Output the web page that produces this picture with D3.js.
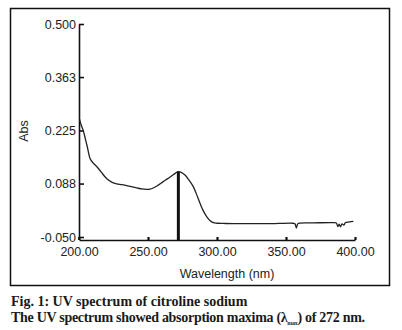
<!DOCTYPE html>
<html>
<head>
<meta charset="utf-8">
<script src="https://cdn.jsdelivr.net/npm/d3@7"></script>
<style>
  html, body { margin: 0; padding: 0; background: #fff; }
  svg { display: block; }
</style>
</head>
<body>
<svg id="chart" width="402" height="330"></svg>
<script>
// UV absorption spectrum of citroline sodium
const wavelength = [
  200.3, 201.5, 203, 204.5, 206, 208, 210, 212.8, 216, 220, 224, 227.3, 231, 234.6, 238,
  241.8, 245.5, 249, 251.5, 253.8, 257, 261, 264, 267, 270, 272, 274, 276.8, 279.5, 282.8,
  285, 287.7, 290, 292.5, 295, 297.3, 300, 305, 311.8, 320, 336, 345, 355, 356.5, 357.5,
  358.5, 360, 370, 384, 386.5, 387.5, 388.5, 389.5, 390.5, 392, 393, 396, 398.8
];
const absorbance = [
  0.255, 0.240, 0.226, 0.205, 0.183, 0.153, 0.142, 0.132, 0.118, 0.101, 0.091, 0.087, 0.085, 0.0825, 0.080,
  0.077, 0.074, 0.073, 0.0735, 0.0765, 0.083, 0.093, 0.100, 0.1075, 0.115, 0.119, 0.117, 0.110, 0.098, 0.080,
  0.062, 0.037, 0.018, 0.0025, -0.008, -0.013, -0.0145, -0.015, -0.0155, -0.0155, -0.0155, -0.015, -0.0145, -0.016, -0.027,
  -0.016, -0.014, -0.0135, -0.013, -0.014, -0.023, -0.017, -0.024, -0.016, -0.019, -0.013, -0.011, -0.0095
];
const xTicks = [200, 250, 300, 350, 400];
const yTicks = [0.500, 0.363, 0.225, 0.088, -0.050];
const lambdaMax = 272;
const peakAbs = 0.119;

const svg = d3.select("#chart");

// frame around the figure
svg.append("rect")
  .attr("x", 10.5).attr("y", 8.5)
  .attr("width", 379).attr("height", 277)
  .attr("fill", "none").attr("stroke", "#111").attr("stroke-width", 1.5);

const x = d3.scaleLinear().domain([200, 400]).range([79, 355]);
const y = d3.scaleLinear().domain([-0.05, 0.5]).range([237, 24]);
const axisY = 240;
const font = "'Liberation Sans', Arial, sans-serif";
// plain hyphen for negative values
const fmtY = d => d3.format(".3f")(d).replace("\u2212", "-");

// y axis
const gy = svg.append("g").attr("transform", `translate(${x(200)},0)`)
  .call(d3.axisLeft(y).tickValues(yTicks).tickFormat(fmtY)
    .tickSizeInner(-5).tickSizeOuter(0).tickPadding(3));
gy.select(".domain").attr("stroke", "#111").attr("stroke-width", 1.6);
gy.selectAll(".tick line").attr("stroke", "#111").attr("stroke-width", 1.6);
gy.selectAll("text").attr("font-family", font).attr("font-size", 12.5).attr("fill", "#222");

// joint between the y axis and the baseline
svg.append("line")
  .attr("x1", x(200)).attr("x2", x(200))
  .attr("y1", y(-0.05)).attr("y2", axisY)
  .attr("stroke", "#111").attr("stroke-width", 1.6);

// x axis
const gx = svg.append("g").attr("transform", `translate(0,${axisY})`)
  .call(d3.axisBottom(x).tickValues(xTicks).tickFormat(d3.format(".2f"))
    .tickSizeInner(-3).tickSizeOuter(0).tickPadding(7));
gx.select(".domain").attr("stroke", "#111").attr("stroke-width", 1.6);
gx.selectAll(".tick line").attr("stroke", "#111").attr("stroke-width", 2.2);
gx.selectAll("text").attr("font-family", font).attr("font-size", 12.5).attr("fill", "#222");

// axis titles
svg.append("text")
  .attr("transform", `translate(28,131) rotate(-90)`)
  .attr("text-anchor", "middle")
  .attr("font-family", font).attr("font-size", 12.5).attr("fill", "#222")
  .text("Abs");
svg.append("text")
  .attr("x", 227).attr("y", 277.5)
  .attr("text-anchor", "middle")
  .attr("font-family", font).attr("font-size", 12.5).attr("fill", "#222")
  .text("Wavelength (nm)");

// spectrum trace
const pts = wavelength.map((w, i) => [w, absorbance[i]]);
svg.append("path")
  .datum(pts)
  .attr("fill", "none")
  .attr("stroke", "#222")
  .attr("stroke-width", 1.3)
  .attr("d", d3.line().x(d => x(d[0])).y(d => y(d[1])).curve(d3.curveCatmullRom));

// marker at the absorption maximum
svg.append("line")
  .attr("x1", x(lambdaMax)).attr("x2", x(lambdaMax))
  .attr("y1", y(peakAbs)).attr("y2", axisY)
  .attr("stroke", "#111").attr("stroke-width", 3);

// caption
const capFont = "'Liberation Serif', 'DejaVu Serif', serif";
svg.append("text")
  .attr("x", 11).attr("y", 305.5)
  .attr("font-family", capFont).attr("font-weight", "bold").attr("font-size", 14)
  .attr("fill", "#1a1a1a")
  .text("Fig. 1: UV spectrum of citroline sodium");
const line2 = svg.append("text")
  .attr("x", 11).attr("y", 322)
  .attr("font-family", capFont).attr("font-weight", "bold").attr("font-size", 14)
  .attr("fill", "#1a1a1a")
  .attr("textLength", 354).attr("lengthAdjust", "spacing");
line2.append("tspan").text("The UV spectrum showed absorption maxima (λ");
line2.append("tspan").attr("font-size", 6).attr("dy", 3).text("max");
line2.append("tspan").attr("dy", -3).text(`) of ${lambdaMax} nm.`);
</script>
</body>
</html>
